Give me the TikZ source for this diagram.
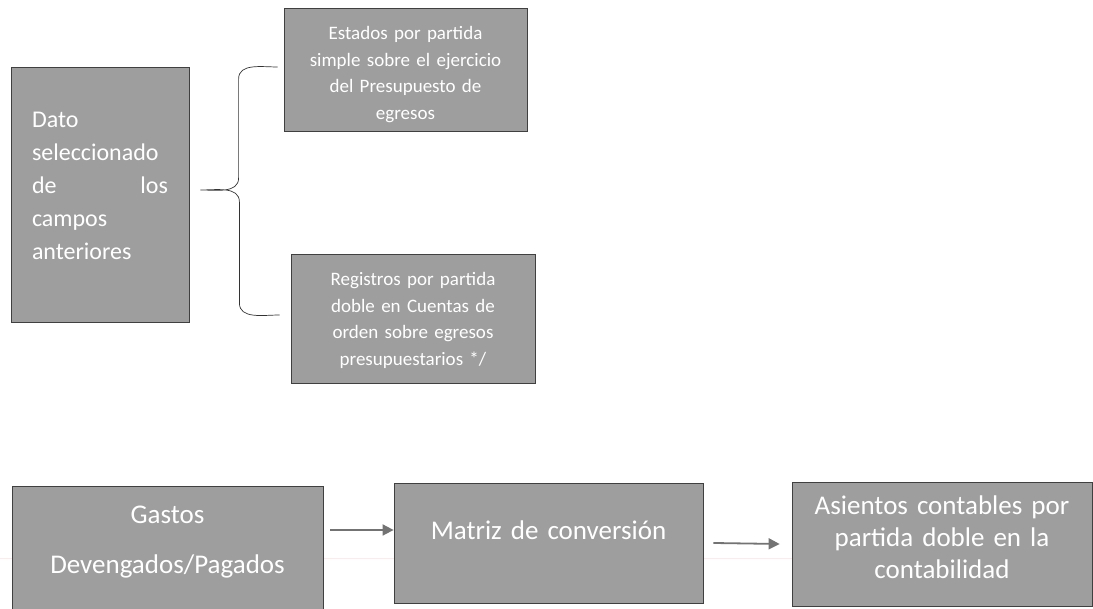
\documentclass[tikz,border=0pt]{standalone}
\usepackage{fontspec}
\setmainfont{Carlito}
\usetikzlibrary{calc}
\usetikzlibrary{positioning}
\usetikzlibrary{arrows.meta}
\definecolor{boxgray}{RGB}{158,158,158}
\definecolor{arrowgray}{RGB}{115,115,115}
\tikzset{
  grisbox/.style={draw=black!75,fill=boxgray,line width=0.8pt,text=white,align=center,inner sep=0pt},
  flecha/.style={arrowgray,line width=1.8pt,-{Triangle[length=11pt,width=11pt]}},
  llave/.style={black!80,line width=0.7pt}
}

\begin{document}
\begin{tikzpicture}[x=1pt,y=1pt]
    \useasboundingbox (0,0) rectangle (1093,609);

    \draw[pink!35,line width=0.6pt] (0,51) -- (792,51);

    \node[grisbox,minimum width=178pt,minimum height=255pt,text width=136pt,align=left,
          font=\fontsize{24}{33}\selectfont] (dato) at (100,414.5)
      {Dato\\seleccionado\\de\hfill los\\campos\\anteriores\par\vspace*{18pt}};

    \node[grisbox,minimum width=243pt,minimum height=123pt,text width=225pt,
          font=\fontsize{19}{26.5}\selectfont] (estados) at (405.5,539.5)
      {Estados por partida\\simple sobre el ejercicio\\del Presupuesto de\\egresos\par\vspace*{-10pt}};
    \node[grisbox,minimum width=244pt,minimum height=129pt,text width=225pt,
          font=\fontsize{19}{26.5}\selectfont] (registros) at (413,290.5)
      {Registros por partida\\doble en Cuentas de\\orden sobre egresos\\presupuestarios */\par\vspace*{-4pt}};

    \node[grisbox,minimum width=311pt,minimum height=129pt,text width=290pt,
          font=\fontsize{27}{32}\selectfont] (gastos) at (167.5,58.5)
      {Gastos\\[18pt]Devengados/Pagados\par\vspace*{16pt}};
    \node[grisbox,minimum width=309pt,minimum height=120pt,text width=290pt,
          font=\fontsize{27}{32}\selectfont] (matriz) at (548.5,66)
      {Matriz de conversión\par\vspace*{26pt}};
    \node[grisbox,minimum width=300pt,minimum height=124pt,text width=290pt,
          font=\fontsize{27}{32}\selectfont] (asientos) at (942,65)
      {Asientos contables por\\partida doble en la\\contabilidad\par\vspace*{14pt}};

    % llave
    \coordinate (punta) at ([xshift=11pt,yshift=4.5pt]dato.east);
    \coordinate (llavearriba) at ([xshift=-6pt,yshift=2.5pt]estados.west);
    \coordinate (llaveabajo) at ([xshift=-11pt,yshift=3.5pt]registros.west);
    \draw[llave]
      (llavearriba) to[out=180,in=90] ++(-39,-12) -- ++(0,-99) to[out=-90,in=0] (punta)
      (punta) to[out=0,in=90] ++(39,-12) -- ++(0,-101) to[out=-90,in=180] (llaveabajo)
      ;

    \draw[flecha] ([xshift=7pt,yshift=20.5pt]gastos.east) -- ([yshift=13pt]matriz.west);
    \draw[flecha] ([xshift=10pt]matriz.east) -- ([xshift=-12pt]asientos.west);

\end{tikzpicture}
\end{document}
